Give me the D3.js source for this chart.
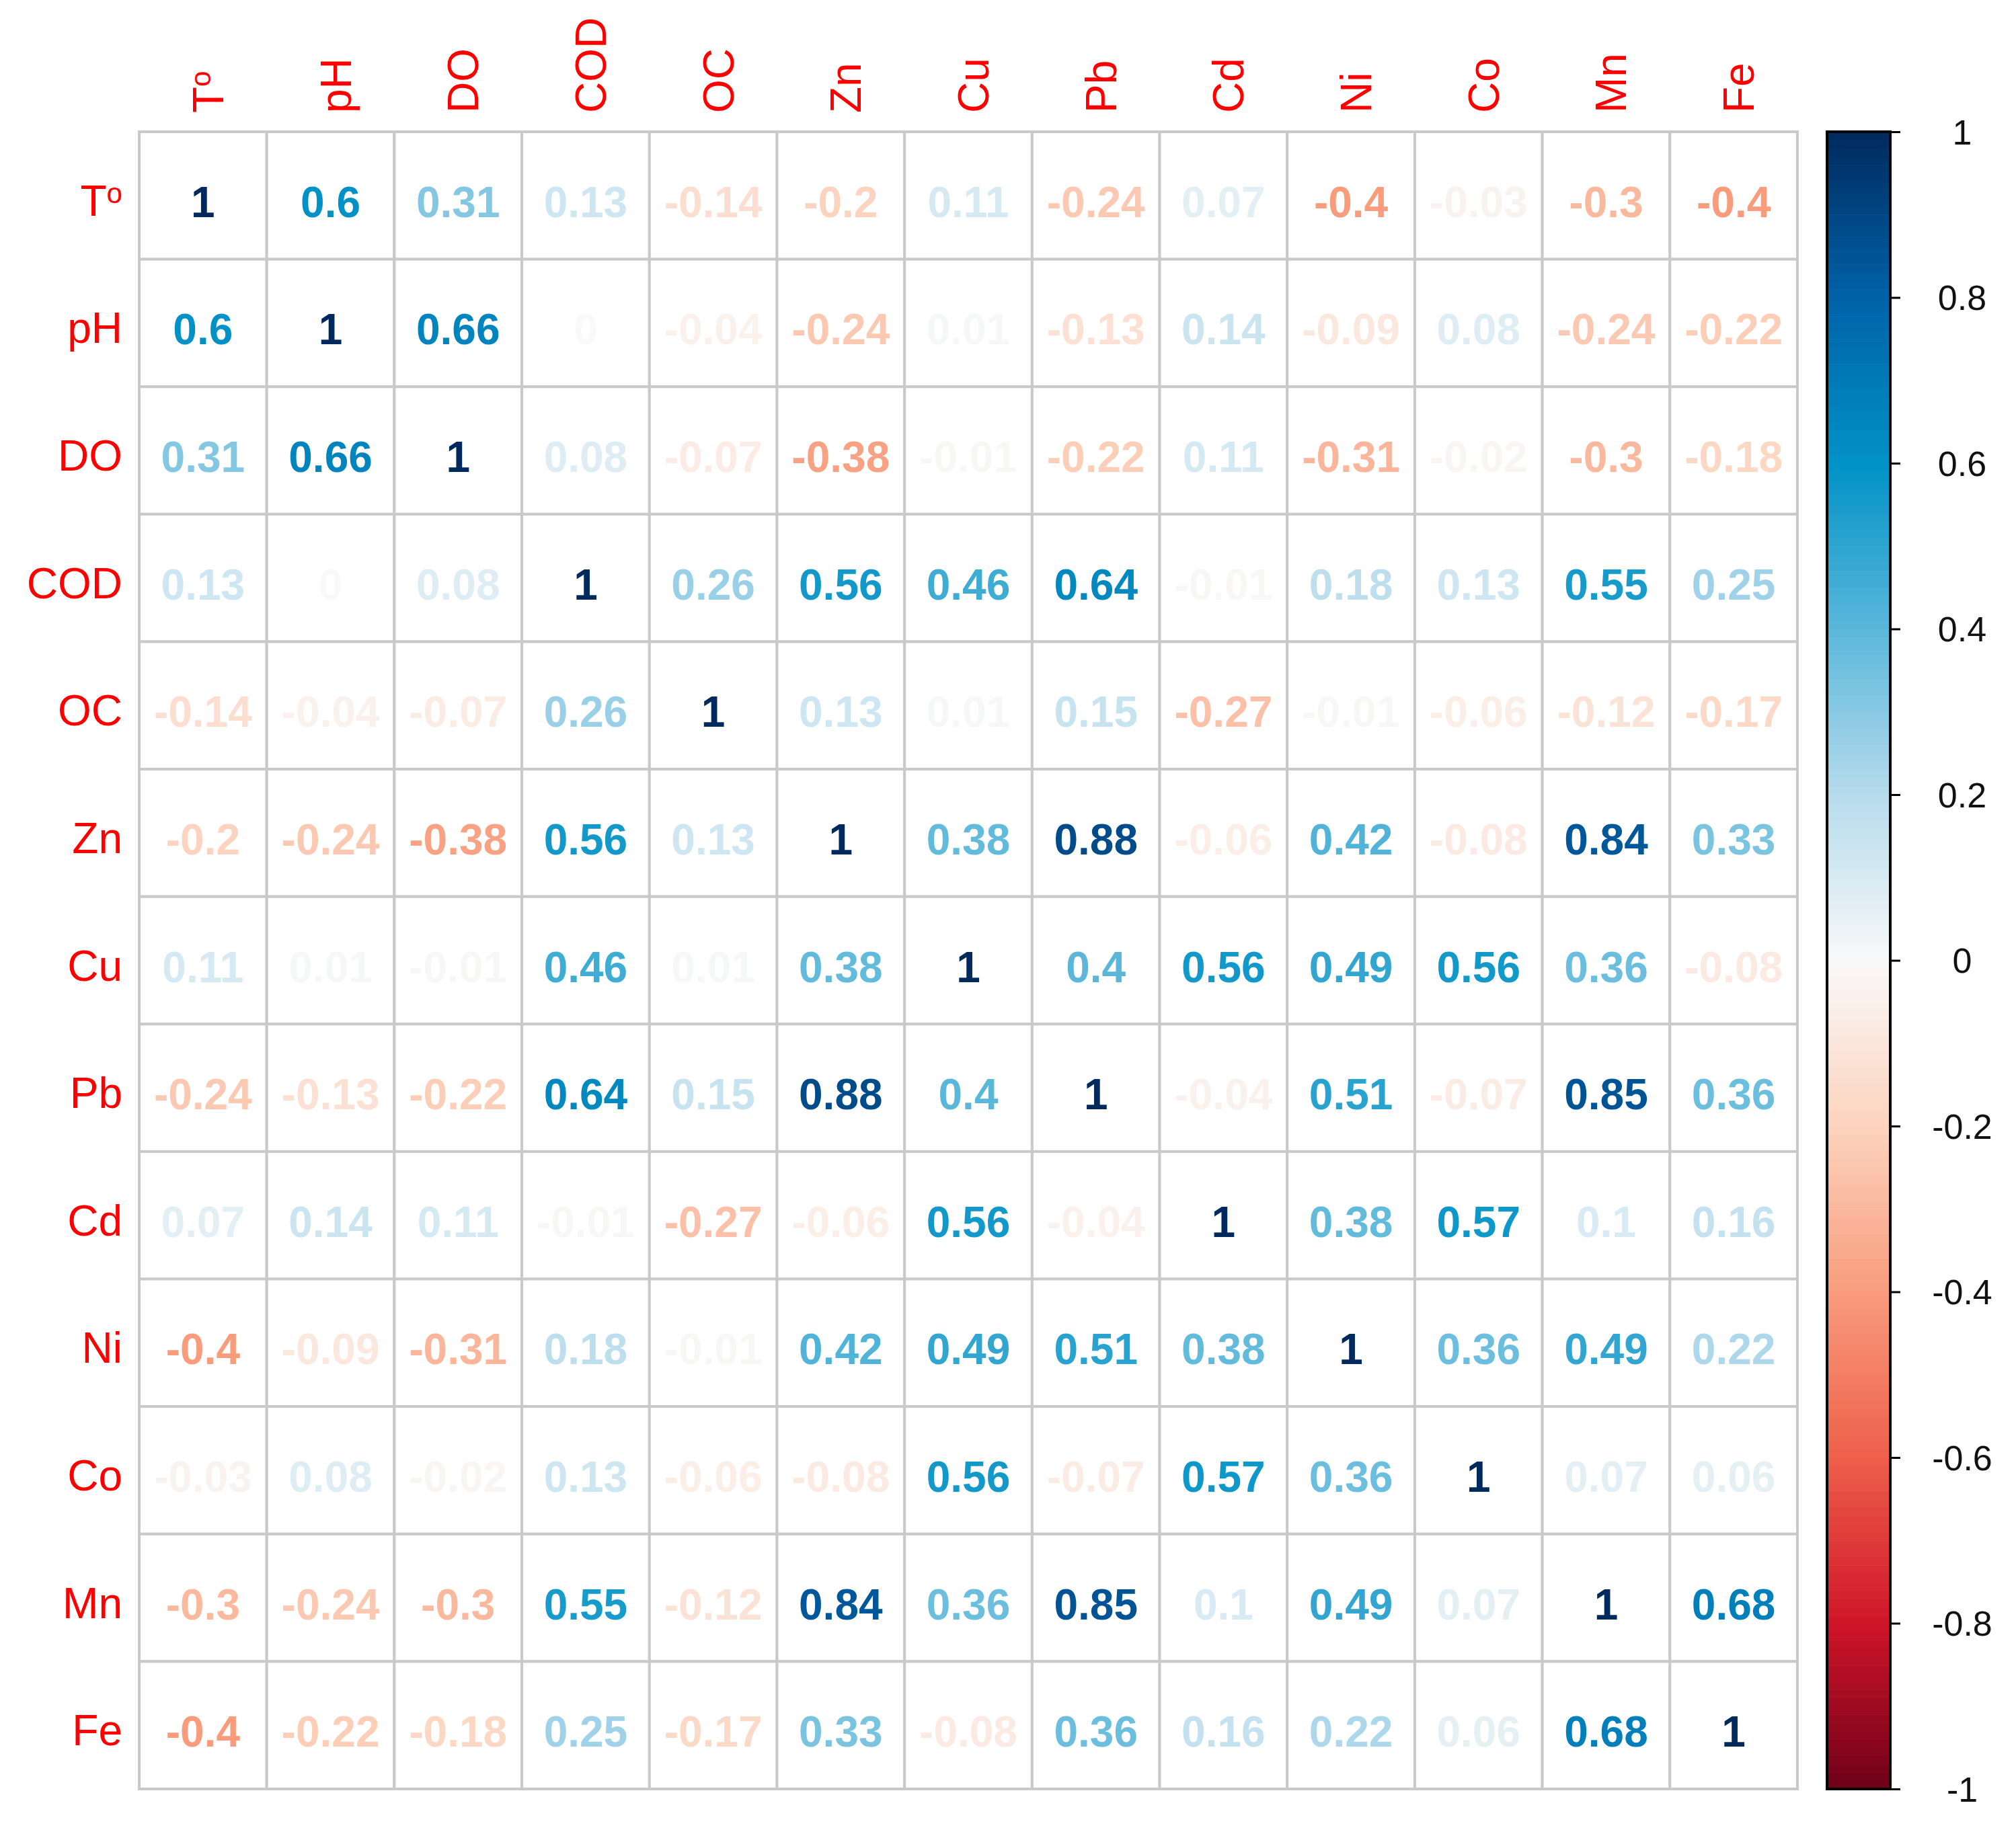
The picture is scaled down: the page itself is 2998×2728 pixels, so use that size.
<!DOCTYPE html>
<html><head><meta charset="utf-8">
<script src="https://cdn.jsdelivr.net/npm/d3@7"></script>
<style>body{margin:0;background:#fff}svg{display:block}</style>
</head><body><svg id="chart"></svg>
<script>
// ---- data ----
const variables = ["Tº","pH","DO","COD","OC","Zn","Cu","Pb","Cd","Ni","Co","Mn","Fe"];
const rowT   = [1, 0.6, 0.31, 0.13, -0.14, -0.2, 0.11, -0.24, 0.07, -0.4, -0.03, -0.3, -0.4];
const rowPH  = [0.6, 1, 0.66, 0, -0.04, -0.24, 0.01, -0.13, 0.14, -0.09, 0.08, -0.24, -0.22];
const rowDO  = [0.31, 0.66, 1, 0.08, -0.07, -0.38, -0.01, -0.22, 0.11, -0.31, -0.02, -0.3, -0.18];
const rowCOD = [0.13, 0, 0.08, 1, 0.26, 0.56, 0.46, 0.64, -0.01, 0.18, 0.13, 0.55, 0.25];
const rowOC  = [-0.14, -0.04, -0.07, 0.26, 1, 0.13, 0.01, 0.15, -0.27, -0.01, -0.06, -0.12, -0.17];
const rowZn  = [-0.2, -0.24, -0.38, 0.56, 0.13, 1, 0.38, 0.88, -0.06, 0.42, -0.08, 0.84, 0.33];
const rowCu  = [0.11, 0.01, -0.01, 0.46, 0.01, 0.38, 1, 0.4, 0.56, 0.49, 0.56, 0.36, -0.08];
const rowPb  = [-0.24, -0.13, -0.22, 0.64, 0.15, 0.88, 0.4, 1, -0.04, 0.51, -0.07, 0.85, 0.36];
const rowCd  = [0.07, 0.14, 0.11, -0.01, -0.27, -0.06, 0.56, -0.04, 1, 0.38, 0.57, 0.1, 0.16];
const rowNi  = [-0.4, -0.09, -0.31, 0.18, -0.01, 0.42, 0.49, 0.51, 0.38, 1, 0.36, 0.49, 0.22];
const rowCo  = [-0.03, 0.08, -0.02, 0.13, -0.06, -0.08, 0.56, -0.07, 0.57, 0.36, 1, 0.07, 0.06];
const rowMn  = [-0.3, -0.24, -0.3, 0.55, -0.12, 0.84, 0.36, 0.85, 0.1, 0.49, 0.07, 1, 0.68];
const rowFe  = [-0.4, -0.22, -0.18, 0.25, -0.17, 0.33, -0.08, 0.36, 0.16, 0.22, 0.06, 0.68, 1];
const corrRows = [rowT,rowPH,rowDO,rowCOD,rowOC,rowZn,rowCu,rowPb,rowCd,rowNi,rowCo,rowMn,rowFe];
const legendTicks = [1, 0.8, 0.6, 0.4, 0.2, 0, -0.2, -0.4, -0.6, -0.8, -1];
const paletteStops  = [-1, -0.8, -0.6, -0.4, -0.2, 0, 0.2, 0.4, 0.6, 0.8, 1];
const paletteColors = ["#6E0019","#CF1529","#EE5F4A","#F89C7C","#FCD3BE","#F9F9F9",
                       "#B6DBEC","#5AB7DA","#0092C6","#0062A8","#002A5E"];

// ---- layout ----
const W = 2998, H = 2728;
const svg = d3.select("#chart").attr("width", W).attr("height", H);
svg.append("rect").attr("width", W).attr("height", H).attr("fill", "#fff");

const x = d3.scaleBand().domain(d3.range(variables.length)).range([207, 2673]);
const y = d3.scaleBand().domain(d3.range(variables.length)).range([196, 2661]);
const color = d3.scaleLinear().domain(paletteStops).range(paletteColors).interpolate(d3.interpolateRgb);
const fs = 64;
const font = "'Liberation Sans', Arial, Helvetica, sans-serif";

const cells = [];
corrRows.forEach((row, i) => row.forEach((v, j) => cells.push({i, j, v})));

// grid cells
svg.append("g").selectAll("rect").data(cells).join("rect")
  .attr("x", d => x(d.j)).attr("y", d => y(d.i))
  .attr("width", x.bandwidth()).attr("height", y.bandwidth())
  .attr("fill", "#fff").attr("stroke", "#C9C9C9").attr("stroke-width", 4);

// numbers
svg.append("g").selectAll("text").data(cells).join("text")
  .attr("x", d => x(d.j) + x.bandwidth() / 2)
  .attr("y", d => y(d.i) + y.bandwidth() / 2 + 32)
  .attr("text-anchor", "middle")
  .attr("font-family", font).attr("font-size", fs).attr("font-weight", "bold")
  .attr("fill", d => color(d.v))
  .text(d => String(d.v));

function addLabel(sel, name) {
  if (name === "Tº") {
    sel.append("tspan").text("T");
    sel.append("tspan").attr("font-size", fs * 0.66).attr("dy", -fs * 0.3).text("o");
  } else {
    sel.text(name);
  }
}

// row labels
const rl = svg.append("g").selectAll("text").data(variables).join("text")
  .attr("x", 182)
  .attr("y", (d, i) => y(i) + y.bandwidth() / 2 + 30)
  .attr("text-anchor", "end")
  .attr("font-family", font).attr("font-size", fs).attr("fill", "#FF0000");
rl.each(function(d) { addLabel(d3.select(this), d); });

// column labels
const cl = svg.append("g").selectAll("text").data(variables).join("text")
  .attr("transform", (d, i) => `translate(${x(i) + x.bandwidth() / 2 + 30},168) rotate(-90)`)
  .attr("text-anchor", "start")
  .attr("font-family", font).attr("font-size", fs).attr("fill", "#FF0000");
cl.each(function(d) { addLabel(d3.select(this), d); });

// colour bar
const yc = d3.scaleLinear().domain([-1, 1]).range([2661, 196]);
const barX0 = 2717, barX1 = 2811;
const steps = d3.range(-1, 1, 0.01);
svg.append("g").selectAll("rect").data(steps).join("rect")
  .attr("x", barX0).attr("width", barX1 - barX0)
  .attr("y", d => yc(d + 0.01)).attr("height", d => yc(d) - yc(d + 0.01) + 0.6)
  .attr("fill", d => color(d + 0.005));
svg.append("rect").attr("x", barX0).attr("y", yc(1))
  .attr("width", barX1 - barX0).attr("height", yc(-1) - yc(1))
  .attr("fill", "none").attr("stroke", "#000").attr("stroke-width", 4);

const axis = svg.append("g").attr("transform", `translate(${barX1},0)`)
  .call(d3.axisRight(yc).tickValues(legendTicks).tickSize(15).tickFormat(d => String(d)));
axis.select(".domain").remove();
axis.selectAll(".tick line").attr("stroke", "#000").attr("stroke-width", 3);
axis.selectAll(".tick text").attr("x", 107).attr("dy", "0.35em")
  .attr("text-anchor", "middle").attr("font-family", font).attr("font-size", 52).attr("fill", "#111");
</script>
</body></html>
